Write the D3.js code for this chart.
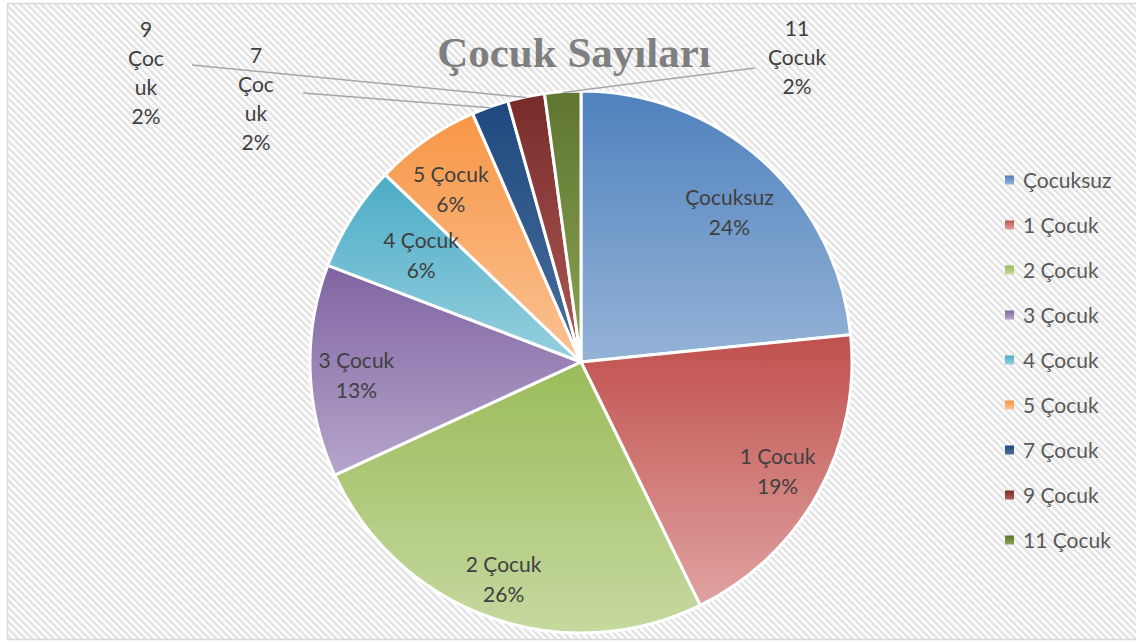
<!DOCTYPE html>
<html>
<head>
<meta charset="utf-8">
<script src="https://cdn.jsdelivr.net/npm/d3@7"></script>
<style>
  body { margin: 0; background: #fff; }
  text { font-family: Lato, "Open Sans", sans-serif; }
</style>
</head>
<body>
<div id="chart"></div>
<script>
"use strict";

// == DATA ==
var categories = ["Çocuksuz", "1 Çocuk", "2 Çocuk", "3 Çocuk", "4 Çocuk", "5 Çocuk", "7 Çocuk", "9 Çocuk", "11 Çocuk"];
var values = [23.4, 19.35, 25.4, 12.65, 6.35, 6.3, 2.2, 2.2, 2.15];
var pctLabels = ["24%", "19%", "26%", "13%", "6%", "6%", "2%", "2%", "2%"];
var topColors = ["#4f81bd", "#c0504d", "#9bbb59", "#8064a2", "#4bacc6", "#f79646", "#1f497d", "#772c2a", "#5f7530"];
var bottomColors = ["#95b3d7", "#e0a3a1", "#c6d9a0", "#b5a5cb", "#97d0df", "#fbc294", "#4a6f9e", "#b05a57", "#8aa553"];

var visualize = function () {
  var width = 1136, height = 641;
  var cx = 581, cy = 362, radius = 271;

  var svg = d3.select("#chart").append("svg")
    .attr("width", width).attr("height", height);

  var defs = svg.append("defs");

  // diagonal hatch background
  var pat = defs.append("pattern")
    .attr("id", "hatch")
    .attr("patternUnits", "userSpaceOnUse")
    .attr("width", 5).attr("height", 5)
    .attr("patternTransform", "rotate(-45)");
  pat.append("rect").attr("width", 5).attr("height", 5).attr("fill", "#ffffff");
  pat.append("rect").attr("width", 2.5).attr("height", 5).attr("fill", "#e2e2e2");

  svg.append("rect")
    .attr("x", 7.5).attr("y", 3.5)
    .attr("width", 1140).attr("height", 636)
    .attr("fill", "url(#hatch)")
    .attr("stroke", "#d9d9d9").attr("stroke-width", 1.5);

  categories.forEach(function (c, i) {
    var g = defs.append("linearGradient")
      .attr("id", "grad" + i)
      .attr("x1", 0).attr("y1", 0).attr("x2", 0).attr("y2", 1);
    g.append("stop").attr("offset", "0%").attr("stop-color", topColors[i]);
    g.append("stop").attr("offset", "100%").attr("stop-color", bottomColors[i]);
  });

  // title
  svg.append("text")
    .attr("x", 574).attr("y", 67)
    .attr("text-anchor", "middle")
    .style("font-family", "'Liberation Serif', 'DejaVu Serif', serif")
    .style("font-weight", "bold")
    .style("font-size", "43px")
    .attr("fill", "#7f7f7f")
    .text("Çocuk Sayıları");

  var data = categories.map(function (c, i) { return { name: c, value: values[i], pct: pctLabels[i], i: i }; });

  var pie = d3.pie().sort(null).value(function (d) { return d.value; });
  var arcs = pie(data);
  var arc = d3.arc().innerRadius(0).outerRadius(radius);

  var g = svg.append("g").attr("transform", "translate(" + cx + "," + cy + ")");

  g.selectAll("path.slice")
    .data(arcs)
    .enter()
    .append("path")
    .attr("class", "slice")
    .attr("d", arc)
    .attr("fill", function (d) { return "url(#grad" + d.data.i + ")"; })
    .attr("stroke", "#ffffff")
    .attr("stroke-width", 3)
    .attr("stroke-linejoin", "round");

  // inside labels (radius factor + small angle nudge, degrees)
  var labelRadius = [0.78, 0.83, 0.85, 0.83, 0.71, 0.80];
  var labelNudge = [2.5, 0, 0, -1.3, 1.5, -2];
  arcs.slice(0, 6).forEach(function (d, k) {
    var a = (d.startAngle + d.endAngle) / 2 + labelNudge[k] * Math.PI / 180;
    var r = radius * labelRadius[k];
    var px = Math.sin(a) * r, py = -Math.cos(a) * r;
    var t = g.append("text")
      .attr("text-anchor", "middle")
      .attr("fill", "#404040")
      .style("font-size", "21px");
    t.append("tspan").attr("x", px).attr("y", py - 7).text(d.data.name);
    t.append("tspan").attr("x", px).attr("y", py + 23).text(d.data.pct);
  });

  // outside labels with leader lines
  var outside = [
    { i: 6, x: 256, y: 63, lines: ["7", "Çoc", "uk"], lx: 303, ly: 93 },
    { i: 7, x: 146, y: 37, lines: ["9", "Çoc", "uk"], lx: 192, ly: 65 },
    { i: 8, x: 797, y: 36, lines: ["11", "Çocuk"], lx: 755, ly: 68 }
  ];
  outside.forEach(function (o) {
    var d = arcs[o.i];
    var a = (d.startAngle + d.endAngle) / 2;
    var ex = cx + Math.sin(a) * (radius - 1);
    var ey = cy - Math.cos(a) * (radius - 1);
    svg.append("line")
      .attr("x1", o.lx).attr("y1", o.ly)
      .attr("x2", ex).attr("y2", ey)
      .attr("stroke", "#a6a6a6").attr("stroke-width", 1.5);
    var t = svg.append("text")
      .attr("text-anchor", "middle")
      .attr("fill", "#404040")
      .style("font-size", "21px");
    o.lines.concat([d.data.pct]).forEach(function (s, j) {
      t.append("tspan").attr("x", o.x).attr("y", o.y + j * 29).text(s);
    });
  });

  // legend
  var legend = svg.append("g").attr("transform", "translate(1005,180)");
  var rows = legend.selectAll("g.row")
    .data(data)
    .enter()
    .append("g")
    .attr("class", "row")
    .attr("transform", function (d, i) { return "translate(0," + (i * 45) + ")"; });
  rows.append("rect")
    .attr("x", 0).attr("y", -4.5)
    .attr("width", 9).attr("height", 9)
    .attr("fill", function (d) { return "url(#grad" + d.i + ")"; });
  rows.append("text")
    .attr("x", 18).attr("y", 7.5)
    .attr("fill", "#595959")
    .style("font-size", "21px")
    .text(function (d) { return d.name; });
};

visualize();
</script>
</body>
</html>
